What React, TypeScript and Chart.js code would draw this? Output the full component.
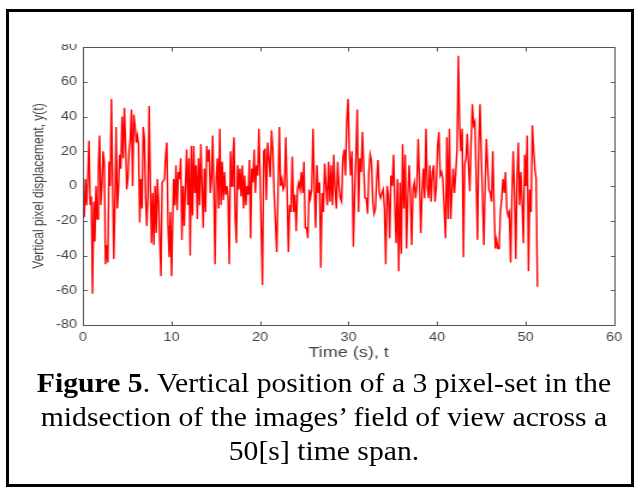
import React, { useEffect, useRef } from "react";
import { Chart, registerables } from "chart.js";

Chart.register(...registerables);

// Time (s) at which each traced block of samples begins and ends
const segmentStartTimes = [0.0, 10.23, 20.27, 30.54, 40.96];
const segmentEndTimes = [10.0, 20.0, 30.38, 40.65, 51.34];

// Vertical pixel displacement y(t), block by block
const dispBlock1 = [
  -9, -18, 4, -11, 5, 26, -11, -6, -62, -9,
  -32, 0, -19, 12, 29, -11, 0, 20, 14, -45,
  -34, -44, 14, 0, 50, 4, -42, -11, 34, -13,
  -2, 18, 10, 40, 16, 45, 25, -2, 4, 20,
  27, 44, 0, 41, 35, 25, 29, 24, -21, 4,
  -13, 34, 27, -7, -23, -4, 46, 0, -33, -4,
  -34, 0, -27, 4, -9, -31, -52, 2, 3, 4,
  18, 25, -23, -41, -15, -52,
];
const dispBlock2 = [
  4, -11, 12, -14, 8, 4, 16, -31, 0, -23,
  0, 21, -11, 16, -40, 23, -17, 23, -4, 12,
  -19, 16, -11, 24, 0, -24, 10, -15, 23, 14,
  21, -4, 4, 29, -2, -45, 4, 16, -13, 33,
  -11, 14, -8, 8, -5, 0, -7, -45, 20, 0,
  16, 28, -19, -33, 12, -2, 10, -6, 12, -13,
  6, -11, 0, -5, 15, -30, 10, 2, 21, -4,
  12, 6, 33, 6,
];
const dispBlock3 = [
  -57, 20, 21, -8, 25, 16, 5, 32, 21, -4,
  -21, -38, -4, 34, 0, 4, -2, 0, 28, -2,
  -38, -11, -15, 17, -15, -5, -26, -2, 2, -2,
  8, -4, 14, -24, -24, -30, -2, -7, -2, 33,
  0, -24, 12, -4, 2, -47, -4, -15, 13, 0,
  -11, 14, -9, 12, -11, 18, -2, -13, 14, 0,
  -7, -9, 16, 21, 6, 37, 50, 20, 6, 20,
];
const dispBlock4 = [
  -35, -4, 18, 44, -15, 16, 8, 31, 10, -7,
  -7, -16, 8, 18, 14, -9, -16, -13, 4, 15,
  -4, -7, -4, -2, -13, -45, 0, -5, -30, 6,
  0, 18, -11, -33, 4, -49, 2, -39, 24, -13,
  18, -36, -7, 12, -4, -34, -2, 2, -7, 0,
  27, 4, -27, -4, 10, -7, 33, 0, -7, 12,
  -9, 8, 12, -9, 0, 23, 31, 6, 8, 4,
];
const dispBlock5 = [
  -30, 28, -19, 33, -19, -4, 10, -4, 8, 21,
  75, 35, 20, 33, -41, 12, 16, 30, 12, -3,
  25, 47, 35, 37, 4, -31, 23, 47, 18, -7,
  -34, 0, 27, 12, -2, -4, -9, 20, -11, -36,
  -31, -36, -36, -15, -7, 4, -4, 8, -13, -17,
  -15, -44, -7, 20, -4, -42, 4, 25, -11, 8,
  -9, -33, 18, 0, 29, -49, -2, -15, 35, 21,
  10, 4, -58,
];
const displacementBlocks = [dispBlock1, dispBlock2, dispBlock3, dispBlock4, dispBlock5];

const xTickValues = [0, 10, 20, 30, 40, 50, 60];
const yTickValues = [-80, -60, -40, -20, 0, 20, 40, 60, 80];

const xAxisLabel = "Time (s), t";
const yAxisLabel = "Vertical pixel displacement, y(t)";

const STRETCH = 1.2;
const CANVAS_W = 520;
const CANVAS_H = 491;

const AXIS_COLOR = "#555555";
const LABEL_COLOR = "#444444";
const SANS = "'Liberation Sans', Arial, Helvetica, sans-serif";

function buildPoints() {
  const pts: { x: number; y: number }[] = [];
  displacementBlocks.forEach((vals, k) => {
    const t0 = segmentStartTimes[k];
    const t1 = segmentEndTimes[k];
    const n = vals.length;
    vals.forEach((v, j) => {
      pts.push({ x: t0 + ((t1 - t0) * j) / (n - 1), y: v });
    });
  });
  return pts;
}

const boxPlugin = {
  id: "matlabBox",
  afterDraw(chart: any) {
    const { ctx, chartArea: a, scales } = chart;
    const xs = scales.x;
    const ys = scales.y;
    ctx.save();
    // hide upper half of the top tick label (figure was cropped there)
    ctx.fillStyle = "#ffffff";
    ctx.fillRect(a.left - 35, a.top - 25, 33, 22);

    ctx.strokeStyle = AXIS_COLOR;
    ctx.lineWidth = 1;
    const L = Math.round(a.left) + 0.5;
    const R = Math.round(a.right) + 0.5;
    const T = Math.round(a.top) + 0.5;
    const B = Math.round(a.bottom) + 0.5;
    ctx.beginPath();
    ctx.rect(L, T, R - L, B - T);
    const tl = 4;
    xTickValues.forEach((v) => {
      const px = Math.round(xs.getPixelForValue(v)) + 0.5;
      ctx.moveTo(px, B);
      ctx.lineTo(px, B - tl);
      ctx.moveTo(px, T);
      ctx.lineTo(px, T + tl);
    });
    yTickValues.forEach((v) => {
      const py = Math.round(ys.getPixelForValue(v)) + 0.5;
      ctx.moveTo(L, py);
      ctx.lineTo(L + tl / STRETCH, py);
      ctx.moveTo(R, py);
      ctx.lineTo(R - tl / STRETCH, py);
    });
    ctx.stroke();
    ctx.restore();
  },
};

export default function App() {
  const canvasRef = useRef<HTMLCanvasElement | null>(null);

  useEffect(() => {
    const canvas = canvasRef.current;
    if (!canvas) return;
    const chart = new Chart(canvas, {
      type: "line",
      data: {
        datasets: [
          {
            data: buildPoints(),
            borderColor: "#ff0000",
            borderWidth: 1.4,
            pointRadius: 0,
            tension: 0,
            fill: false,
          },
        ],
      },
      options: {
        animation: false,
        responsive: false,
        events: [],
        parsing: false as any,
        layout: { padding: { left: 5, right: 8.3, top: 47, bottom: 126 } },
        plugins: {
          legend: { display: false },
          tooltip: { enabled: false },
        },
        scales: {
          x: {
            type: "linear",
            min: 0,
            max: 60,
            afterBuildTicks: (scale: any) => {
              scale.ticks = xTickValues.map((v) => ({ value: v }));
            },
            afterFit: (scale: any) => {
              scale.height = 40;
              scale.paddingLeft = 0;
              scale.paddingRight = 0;
            },
            grid: { display: false, drawTicks: false },
            border: { display: false },
            ticks: {
              padding: 5,
              color: LABEL_COLOR,
              font: { family: SANS, size: 12 },
              maxRotation: 0,
              autoSkip: false,
            },
            title: {
              display: true,
              text: xAxisLabel,
              color: LABEL_COLOR,
              font: { family: SANS, size: 15 },
              padding: { top: 0, bottom: 3 },
            },
          },
          y: {
            type: "linear",
            min: -80,
            max: 80,
            afterBuildTicks: (scale: any) => {
              scale.ticks = yTickValues.map((v) => ({ value: v }));
            },
            afterFit: (scale: any) => {
              scale.width = 64.2;
              scale.paddingTop = 0;
              scale.paddingBottom = 0;
            },
            grid: { display: false, drawTicks: false },
            border: { display: false },
            ticks: {
              padding: 5,
              color: LABEL_COLOR,
              font: { family: SANS, size: 12 },
              autoSkip: false,
            },
            title: {
              display: true,
              text: yAxisLabel,
              color: LABEL_COLOR,
              font: { family: SANS, size: 12 },
              padding: { top: 20.7, bottom: 0 },
            },
          },
        },
      },
      plugins: [boxPlugin],
    });
    return () => chart.destroy();
  }, []);

  return (
    <div style={{ position: "absolute", left: 0, top: 0, width: 639, height: 491, background: "#fff", overflow: "hidden" }}>
      <canvas
        ref={canvasRef}
        width={CANVAS_W}
        height={CANVAS_H}
        style={{ position: "absolute", left: 0, top: 0, width: CANVAS_W * STRETCH, height: CANVAS_H }}
      />
      <div
        style={{
          position: "absolute",
          left: 24,
          top: 366,
          width: 600,
          textAlign: "center",
          fontFamily: "'Liberation Serif', 'Times New Roman', serif",
          fontSize: 28,
          lineHeight: "34px",
          color: "#000",
          whiteSpace: "nowrap",
          transform: "scaleX(1.06)",
          transformOrigin: "300px 0px",
        }}
      >
        <b>Figure 5</b>. Vertical position of a 3 pixel-set in the
        <br />
        midsection of the images’ field of view across a
        <br />
        50[s] time span.
      </div>
      <div
        style={{
          position: "absolute",
          left: 6,
          top: 9,
          width: 628,
          height: 478,
          boxSizing: "border-box",
          border: "3px solid #000",
          pointerEvents: "none",
        }}
      />
    </div>
  );
}
